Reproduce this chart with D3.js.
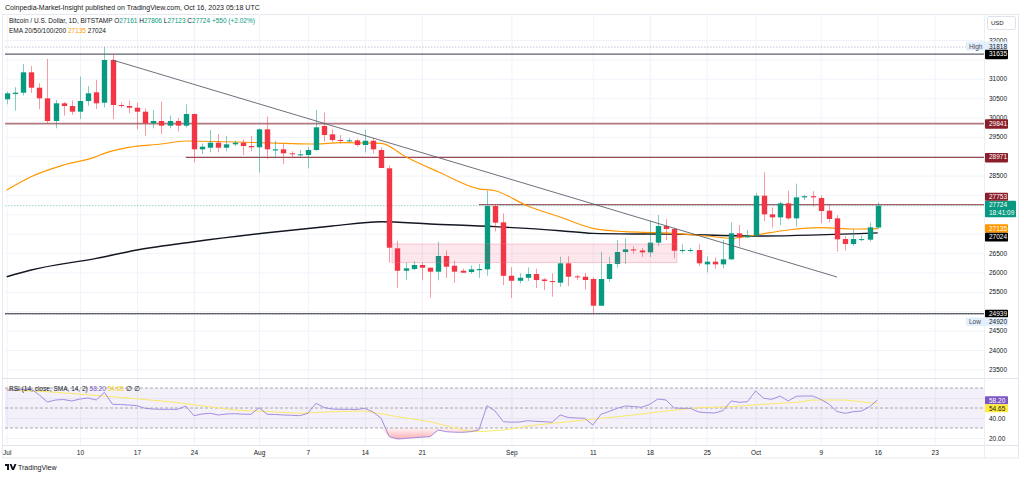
<!DOCTYPE html>
<html><head><meta charset="utf-8">
<script src="https://cdn.jsdelivr.net/npm/d3@7"></script>
<style>
body{margin:0;background:#fff;}
svg{display:block;font-family:"Liberation Sans",Arial,sans-serif;}
</style>
</head><body>
<svg id="c" width="1024" height="478"></svg>
<script>
// ---------- DATA ----------
const firstDay = "2023-07-01";
const opens = [30470,30606,30640,31166,30769,30495,29910,30366,30297,30150,
30426,30650,30382,31484,30323,30297,30253,30150,29850,29910,
29789,29910,29789,30090,29179,29221,29350,29221,29308,29350,
29264,29231,29695,29150,29179,29076,29040,29032,29161,29780,
29566,29419,29400,29410,29290,29400,29161,28689,26624,26046,
26090,26194,26124,26021,26426,26176,26046,26013,26060,26082,
27716,27295,25916,25787,25865,25961,25820,25780,25737,26237,
25900,25892,25832,25144,25832,26219,26529,26598,26570,26520,
26770,27200,27123,26563,26580,26580,26211,26280,26211,26340,
27011,26908,26950,27982,27501,27424,27785,27398,27940,27970,
27922,27596,27398,26864,26735,26855,26847,27161];
const highs = [30666,30780,31381,31329,30882,31510,30452,30400,30440,31053,
30810,30968,31818,31635,30390,30440,30382,30230,30190,30409,
30050,29990,30340,30100,29330,29677,29570,29530,29400,29440,
29520,29720,30021,29400,29320,29130,29160,29240,30194,30130,
29700,29550,29470,29450,29680,29480,29230,28763,26813,26253,
26290,26260,26130,26795,26570,26300,26100,26180,26220,28111,
27760,27527,26140,25980,26130,26100,25860,25980,26409,26420,
25940,25990,25880,26537,26400,26839,26880,26680,26630,27338,
27484,27380,27160,26730,26640,26730,26420,26390,26840,27295,
27226,27100,28050,28585,27680,27830,28111,28292,28000,28100,
27990,27740,27480,26940,27114,26960,27290,27806];
const lows = [30340,30176,30570,30630,30211,29850,29721,30050,30070,29961,
30300,30219,30260,29961,30250,30110,29695,29530,29720,29570,
29720,29640,29740,28844,29060,29100,29100,29130,29260,29030,
29130,28576,28930,28960,28800,28960,28970,28689,29140,29380,
29360,29330,29370,29250,29100,29070,28700,26253,25608,25806,
26060,25800,25350,25800,25860,25737,25990,25970,25860,25916,
27060,25677,25342,25720,25780,25600,25548,25376,25630,25650,
25800,25560,24920,25130,25760,26130,26220,26480,26400,26400,
26690,26839,26366,26500,26520,26170,26000,26100,26110,26330,
26666,26890,26940,27329,27160,27220,27360,27180,27870,27700,
27269,27300,26537,26570,26690,26810,26800,27123];
const closes = [30624,30640,31166,30769,30495,29910,30366,30297,30150,30426,
30624,30366,31484,30323,30297,30253,30150,29850,29910,29789,
29910,29789,30090,29179,29247,29350,29221,29308,29350,29264,
29231,29695,29179,29179,29076,29050,29050,29161,29747,29548,
29419,29400,29410,29290,29400,29179,28697,26640,26046,26108,
26194,26124,26021,26426,26150,26021,25995,26082,26090,27716,
27286,25916,25787,25865,25961,25806,25780,25760,26237,25892,
25880,25806,25144,25832,26219,26529,26598,26570,26520,26770,
27200,27123,26563,26580,26582,26237,26280,26211,26340,27011,
26908,26950,27982,27501,27424,27785,27398,27940,27970,27940,
27587,27381,26856,26735,26864,26862,27166,27724];

const ema50Dates  = ["2023-07-01","2023-07-04","2023-07-08","2023-07-12","2023-07-13","2023-07-16","2023-07-20","2023-07-23","2023-07-28","2023-08-04","2023-08-08","2023-08-11","2023-08-16","2023-08-19","2023-08-23","2023-08-28","2023-08-30","2023-09-03","2023-09-07","2023-09-11","2023-09-15","2023-09-19","2023-09-25","2023-09-28","2023-10-01","2023-10-05","2023-10-09","2023-10-13","2023-10-16"];
const ema50Values = [28129,28472,28774,28989,29076,29231,29316,29394,29375,29334,29316,29350,29334,28988,28601,28160,28111,27716,27432,27141,27053,27027,26942,26883,26968,27097,27156,27123,27135];
const ema200Dates  = ["2023-07-01","2023-07-04","2023-07-12","2023-07-17","2023-07-24","2023-08-02","2023-08-10","2023-08-16","2023-08-22","2023-08-30","2023-09-07","2023-09-11","2023-09-17","2023-09-20","2023-10-01","2023-10-16"];
const ema200Values = [25892,26065,26366,26581,26795,27027,27200,27311,27252,27183,27079,27011,26994,26990,26942,27024];

const rsiValues = [68,68,68.5,69,63,56,58,58.5,57,59,
60,58,65.7,53.7,53.5,53,52.3,49.7,49,48.7,
48.7,48.7,52,42.3,44,44.7,43,44,44.3,43.8,
43.7,50.3,43.7,43.5,43,42.7,42.3,44.7,54.7,50.5,
49,48.7,48.7,48.5,49.7,46,39.7,21.3,19,19.5,
20.3,20.8,21.3,28,26.3,25.8,25.7,26.3,28,52.3,
47,36.3,35.8,36,37.3,36.7,36.3,35.8,43,40.5,
40,39.7,33,43.7,46.5,49.7,52,51.5,50.7,53.7,
59,58,50,49.7,49.7,46,45.3,45,47.5,57,
55.7,56.3,67,59.7,58.7,62,57,61.7,62,62,
58.7,54,46.5,44.7,46.3,47,51.3,58.2];
const rsiSmaDays   = [0,5,13,20,28,36,40,44,48,52,56,58,61,65,69,73,77,81,85,89,93,97,99,103,106,107];
const rsiSmaValues = [68,66.3,61.3,56.3,48,44.7,46.3,47,41.3,36.3,28,26.3,28,33,36.3,39.7,43,47,50.3,51.3,53.7,55.7,58,58,55.3,54.65];

// price labels shown on the axis (others are covered by price tags in the reference)
const priceTicks = d3.range(23500, 32001, 500);
const priceLabelTicks = [32000, 31000, 30500, 30000, 29500, 28500, 26500, 26000, 25500, 24500, 24000, 23500];
const rsiTicks = [20, 40, 60];
const rsiLabelTicks = [20, 40];
const tickDates  = ["2023-07-01","2023-07-10","2023-07-17","2023-07-24","2023-08-01","2023-08-07","2023-08-14","2023-08-21","2023-09-01","2023-09-11","2023-09-18","2023-09-25","2023-10-01","2023-10-09","2023-10-16","2023-10-23"];
const tickLabels = ["Jul","10","17","24","Aug","7","14","21","Sep","11","18","25","Oct","9","16","23"];

const levelValues = [31635, 29841, 28971, 27753, 24939];
const levelStarts = ["2023-06-20","2023-06-20","2023-07-23","2023-08-28","2023-06-20"];
const trendDates  = ["2023-07-14","2023-10-11"];
const trendPrices = [31484, 25884];
const zoneDates   = ["2023-08-17","2023-09-21"];
const zonePrices  = [26735, 26253];
const highValue = 31818, lowValue = 24920, lastPrice = 27724;
const ema50Last = 27135, ema200Last = 27024, rsiLast = 58.20, rsiSmaLast = 54.65;

// ---------- SETUP ----------
const parse = d3.utcParse("%Y-%m-%d");
const day0 = parse(firstDay);
const dates = closes.map((_, i) => d3.utcDay.offset(day0, i));
const candles = dates.map((d, i) => ({d, o: opens[i], h: highs[i], l: lows[i], c: closes[i]}));

const W = 1024, H = 478;
const paneL = 5, paneR = 984, mainT = 14, mainB = 378, rsiT = 378, rsiB = 445, axisB = 458;
const UP = "#089981", DN = "#f23645", TXT = "#131722", GRID = "#f0f3fa";

const x = d3.scaleUtc().domain([day0, dates[dates.length - 1]]).range([6.7, 877.7]);
const y = d3.scaleLinear().domain([23500, 32000]).range([369.4, 40]);
const yr = d3.scaleLinear().domain([20, 70]).range([438, 388]);
const step = x(dates[1]) - x(dates[0]);
const bw = step * 0.66;

const svg = d3.select("#c");
const defs = svg.append("defs");
defs.append("clipPath").attr("id", "mainClip").append("rect")
  .attr("x", paneL).attr("y", mainT).attr("width", paneR - paneL).attr("height", mainB - mainT);
defs.append("clipPath").attr("id", "rsiClip").append("rect")
  .attr("x", paneL).attr("y", rsiT).attr("width", paneR - paneL).attr("height", rsiB - rsiT);
const grad = defs.append("linearGradient").attr("id", "osGrad").attr("x1", 0).attr("y1", 0).attr("x2", 0).attr("y2", 1);
grad.append("stop").attr("offset", "0%").attr("stop-color", "#f23645").attr("stop-opacity", 0.05);
grad.append("stop").attr("offset", "100%").attr("stop-color", "#f23645").attr("stop-opacity", 0.4);

svg.append("rect").attr("width", W).attr("height", H).attr("fill", "#fff");

// header
svg.append("text").attr("x", 5).attr("y", 10).attr("font-size", 7).attr("fill", TXT)
  .text("Coinpedia-Market-Insight published on TradingView.com, Oct 16, 2023 05:18 UTC");

// frame
svg.append("rect").attr("x", 2.5).attr("y", 14.5).attr("width", 1016).attr("height", axisB - 14.5)
  .attr("fill", "none").attr("stroke", "#e0e3eb").attr("stroke-width", 0.8);

// ---------- GRID ----------
const gridG = svg.append("g");
gridG.append("g").attr("transform", `translate(${paneR},0)`)
  .call(d3.axisLeft(y).tickValues(priceTicks).tickSize(paneR - paneL).tickFormat(""))
  .call(g => g.select(".domain").remove())
  .call(g => g.selectAll("line").attr("stroke", GRID));
gridG.append("g").attr("transform", `translate(${paneR},0)`)
  .call(d3.axisLeft(yr).tickValues(rsiTicks).tickSize(paneR - paneL).tickFormat(""))
  .call(g => g.select(".domain").remove())
  .call(g => g.selectAll("line").attr("stroke", GRID));
gridG.append("g").attr("transform", `translate(0,${rsiB})`)
  .call(d3.axisTop(x).tickValues(tickDates.map(parse)).tickSize(rsiB - mainT).tickFormat(""))
  .call(g => g.select(".domain").remove())
  .call(g => g.selectAll("line").attr("stroke", GRID));

// separators
svg.append("line").attr("x1", 2.5).attr("x2", 1018.5).attr("y1", rsiT + 0.5).attr("y2", rsiT + 0.5).attr("stroke", "#e0e3eb");
svg.append("line").attr("x1", 2.5).attr("x2", 1018.5).attr("y1", rsiB + 0.5).attr("y2", rsiB + 0.5).attr("stroke", "#e0e3eb");
svg.append("line").attr("x1", paneR + 0.5).attr("x2", paneR + 0.5).attr("y1", 14.5).attr("y2", axisB).attr("stroke", "#eceef3");

// ---------- MAIN PANE ----------
const main = svg.append("g").attr("clip-path", "url(#mainClip)");

main.append("line").attr("x1", paneL).attr("x2", paneR).attr("y1", y(highValue)).attr("y2", y(highValue))
  .attr("stroke", "#b2b5be").attr("stroke-dasharray", "1.5,1.5").attr("stroke-width", 0.8);
main.append("line").attr("x1", paneL).attr("x2", paneR).attr("y1", y(lowValue)).attr("y2", y(lowValue))
  .attr("stroke", "#b2b5be").attr("stroke-dasharray", "1.5,1.5").attr("stroke-width", 0.8);
main.append("line").attr("x1", paneL).attr("x2", paneR).attr("y1", y(lastPrice)).attr("y2", y(lastPrice))
  .attr("stroke", UP).attr("stroke-opacity", 0.55).attr("stroke-dasharray", "1.5,1.5").attr("stroke-width", 0.8);

const levelColors = ["#5d606b", "#b07a80", "#9c4a52", "#a0606a", "#5d606b"];
levelValues.forEach((v, i) => {
  main.append("line").attr("x1", Math.max(paneL, x(parse(levelStarts[i])))).attr("x2", paneR)
    .attr("y1", y(v)).attr("y2", y(v)).attr("stroke", levelColors[i]).attr("stroke-width", i === 1 ? 1.6 : 1.1);
});

const emaLine = d3.line().x(d => x(d[0])).y(d => y(d[1])).curve(d3.curveMonotoneX);
main.append("path").datum(ema200Dates.map((d, i) => [parse(d), ema200Values[i]]))
  .attr("d", emaLine).attr("fill", "none").attr("stroke", "#131722").attr("stroke-width", 1.4);
main.append("path").datum(ema50Dates.map((d, i) => [parse(d), ema50Values[i]]))
  .attr("d", emaLine).attr("fill", "none").attr("stroke", "#ff9800").attr("stroke-width", 1.2);

const cg = main.append("g");
cg.selectAll("line.wick").data(candles).join("line")
  .attr("x1", d => Math.round(x(d.d)) + 0.5).attr("x2", d => Math.round(x(d.d)) + 0.5)
  .attr("y1", d => y(d.h)).attr("y2", d => y(d.l))
  .attr("stroke", d => d.c >= d.o ? UP : DN).attr("stroke-opacity", 0.5).attr("stroke-width", 1);
cg.selectAll("rect.body").data(candles).join("rect")
  .attr("x", d => Math.round(x(d.d)) + 0.5 - bw / 2).attr("width", bw)
  .attr("y", d => y(Math.max(d.o, d.c)))
  .attr("height", d => Math.max(1, Math.abs(y(d.o) - y(d.c))))
  .attr("fill", d => d.c >= d.o ? UP : DN);

const zx0 = x(parse(zoneDates[0])) + bw / 2, zx1 = x(parse(zoneDates[1])) + bw / 2;
main.append("rect").attr("x", zx0).attr("width", zx1 - zx0)
  .attr("y", y(zonePrices[0])).attr("height", y(zonePrices[1]) - y(zonePrices[0]))
  .attr("fill", "rgba(242,54,100,0.12)").attr("stroke", "rgba(230,120,150,0.45)").attr("stroke-width", 0.8);

main.append("line")
  .attr("x1", x(parse(trendDates[0]))).attr("y1", y(trendPrices[0]))
  .attr("x2", x(parse(trendDates[1]))).attr("y2", y(trendPrices[1]))
  .attr("stroke", "#5d606b").attr("stroke-width", 0.9);

// ---------- RSI PANE ----------
const rsiG = svg.append("g").attr("clip-path", "url(#rsiClip)");
rsiG.append("rect").attr("x", paneL).attr("width", paneR - paneL).attr("y", yr(70)).attr("height", yr(30) - yr(70))
  .attr("fill", "#7e57c2").attr("fill-opacity", 0.09);
[70, 50, 30].forEach(v => {
  rsiG.append("line").attr("x1", paneL).attr("x2", paneR).attr("y1", yr(v)).attr("y2", yr(v))
    .attr("stroke", "#9598a1").attr("stroke-dasharray", "3,2").attr("stroke-width", 0.8);
});
rsiG.append("path").datum(rsiValues)
  .attr("d", d3.area().x((d, i) => x(dates[i])).y0(yr(30)).y1(d => yr(Math.min(30, d))))
  .attr("fill", "url(#osGrad)");
rsiG.append("path").datum(rsiSmaDays.map((d, i) => [dates[d], rsiSmaValues[i]]))
  .attr("d", d3.line().x(d => x(d[0])).y(d => yr(d[1])))
  .attr("fill", "none").attr("stroke", "#fbe96a").attr("stroke-width", 1);
rsiG.append("path").datum(rsiValues)
  .attr("d", d3.line().x((d, i) => x(dates[i])).y(d => yr(d)))
  .attr("fill", "none").attr("stroke", "#a48de0").attr("stroke-width", 1);

// ---------- AXES ----------
const fs = 6.5;
svg.append("g").attr("transform", `translate(989,0)`)
  .call(d3.axisRight(y).tickValues(priceLabelTicks).tickSize(0).tickPadding(0).tickFormat(d3.format("d")))
  .call(g => g.select(".domain").remove())
  .call(g => g.selectAll("text").attr("font-size", fs).attr("fill", TXT).attr("font-family", "Liberation Sans, Arial"));
svg.append("g").attr("transform", `translate(989,0)`)
  .call(d3.axisRight(yr).tickValues(rsiLabelTicks).tickSize(0).tickPadding(0).tickFormat(d3.format(".2f")))
  .call(g => g.select(".domain").remove())
  .call(g => g.selectAll("text").attr("font-size", fs).attr("fill", TXT).attr("font-family", "Liberation Sans, Arial"));
svg.append("g").attr("transform", `translate(0,${rsiB + 2})`)
  .call(d3.axisBottom(x).tickValues(tickDates.map(parse)).tickSize(0).tickPadding(3).tickFormat((d, i) => tickLabels[i]))
  .call(g => g.select(".domain").remove())
  .call(g => g.selectAll("text").attr("font-size", fs).attr("fill", TXT).attr("font-family", "Liberation Sans, Arial"));

// ---------- TAGS ----------
function tag(yTop, h, bg, lines, fg, x0 = 985, w = 23) {
  svg.append("rect").attr("x", x0).attr("y", yTop).attr("width", w).attr("height", h).attr("fill", bg).attr("rx", 0.8);
  lines.forEach((t, i) => svg.append("text").attr("x", 989).attr("y", yTop + 6.6 + i * 8)
    .attr("font-size", fs).attr("fill", fg).text(t));
}
svg.append("rect").attr("x", 966).attr("y", y(highValue) - 5.5).attr("width", 42).attr("height", 9).attr("fill", "#e3effd");
svg.append("text").attr("x", 969).attr("y", y(highValue) + 1.8).attr("font-size", fs).attr("fill", "#434651").text("High");
svg.append("text").attr("x", 989).attr("y", y(highValue) + 1.8).attr("font-size", fs).attr("fill", TXT).text(highValue);
tag(y(levelValues[0]) - 4.5, 9.5, "#000", [levelValues[0]], "#fff");
tag(y(levelValues[1]) - 4.5, 9.5, "#8a1f2b", [levelValues[1]], "#fff");
tag(y(levelValues[2]) - 4.5, 9.5, "#8a1f2b", [levelValues[2]], "#fff");
const lpTop = y(lastPrice) - 5;
tag(lpTop, 16.5, UP, [lastPrice, "18:41:09"], "#fff", 985, 31);
tag(lpTop - 8, 8, "#8a1f2b", [levelValues[3]], "#fff");
tag(y(ema50Last) - 4.3, 8.6, "#ff9800", [ema50Last], "#fff");
tag(y(ema50Last) + 4.3, 8.6, "#000", [ema200Last], "#fff");
tag(y(levelValues[4]) - 3.8, 7.6, "#000", [levelValues[4]], "#fff");
svg.append("rect").attr("x", 966).attr("y", y(levelValues[4]) + 3.8).attr("width", 42).attr("height", 8.5).attr("fill", "#e3effd");
svg.append("text").attr("x", 969).attr("y", y(levelValues[4]) + 10.3).attr("font-size", fs).attr("fill", "#434651").text("Low");
svg.append("text").attr("x", 989).attr("y", y(levelValues[4]) + 10.3).attr("font-size", fs).attr("fill", TXT).text(lowValue);
tag(yr(rsiLast) - 3.5, 8, "#7e57c2", [rsiLast.toFixed(2)], "#fff");
tag(yr(rsiLast) + 4.5, 8, "#ffeb3b", [rsiSmaLast.toFixed(2)], TXT);

svg.append("rect").attr("x", 987.5).attr("y", 16.5).attr("width", 28).attr("height", 13).attr("fill", "#fff")
  .attr("stroke", "#e0e3eb").attr("rx", 1.5);
svg.append("text").attr("x", 991).attr("y", 25.3).attr("font-size", 6).attr("fill", TXT).text("USD");

// ---------- LEGENDS ----------
const lg = svg.append("text").attr("x", 9).attr("y", 23.3).attr("font-size", fs).attr("fill", TXT);
lg.append("tspan").text("Bitcoin / U.S. Dollar, 1D, BITSTAMP  ");
[["O", opens[opens.length - 1]], ["H", highs[highs.length - 1]], ["L", lows[lows.length - 1]], ["C", closes[closes.length - 1]]]
  .forEach(([k, v]) => { lg.append("tspan").text(k); lg.append("tspan").attr("fill", UP).text(v + "  "); });
lg.append("tspan").attr("fill", UP).text("+550 (+2.02%)");
const lg2 = svg.append("text").attr("x", 9).attr("y", 33).attr("font-size", fs).attr("fill", TXT);
lg2.append("tspan").text("EMA 20/50/100/200  ");
lg2.append("tspan").attr("fill", "#ff9800").text(ema50Last + "  ");
lg2.append("tspan").text(ema200Last);

const lg3 = svg.append("text").attr("x", 9).attr("y", 391).attr("font-size", fs).attr("fill", TXT);
lg3.append("tspan").text("RSI (14, close, SMA, 14, 2)  ");
lg3.append("tspan").attr("fill", "#7e57c2").text(rsiLast.toFixed(2) + "  ");
lg3.append("tspan").attr("fill", "#f5d000").text(rsiSmaLast.toFixed(2) + "  ");
lg3.append("tspan").text("∅  ∅");

const logo = svg.append("g").attr("transform", "translate(5,464)");
logo.append("path").attr("d", "M0,0 H4 V6 H2 V2 H0 Z M4.5,0 H6.5 L8,3.5 L9.5,0 H11.5 L9,6 H7 Z").attr("fill", TXT);
svg.append("text").attr("x", 18).attr("y", 470).attr("font-size", 7).attr("fill", TXT).text("TradingView");
</script>
</body></html>
